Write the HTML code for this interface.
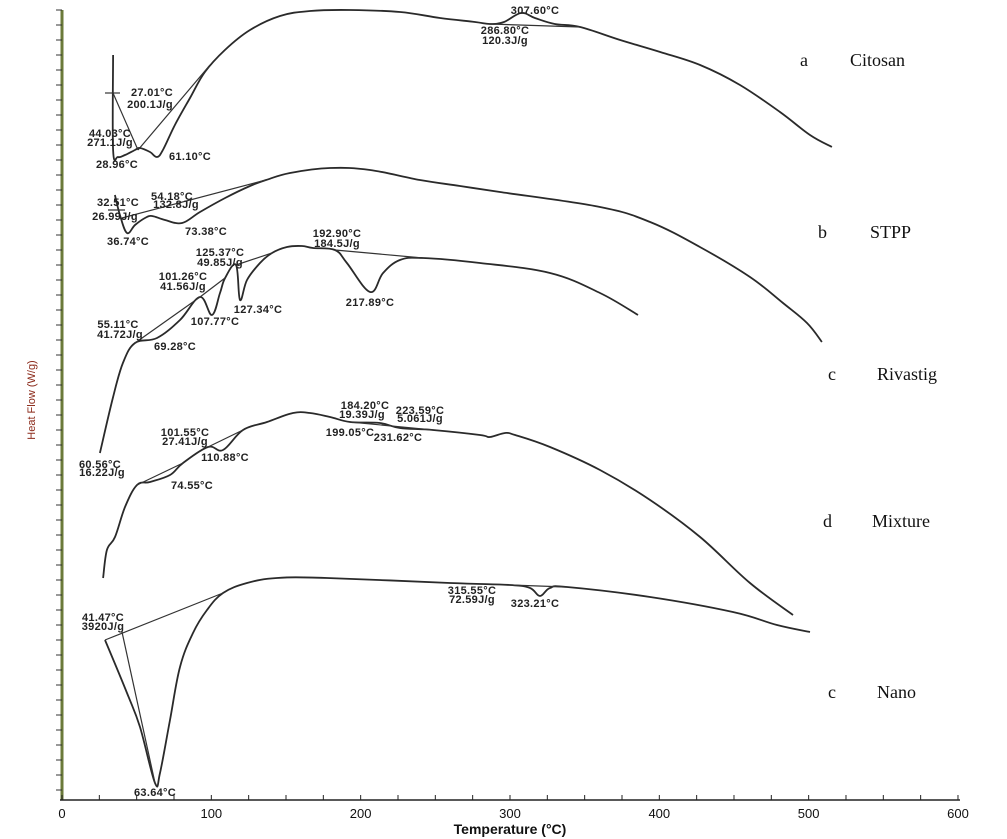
<!DOCTYPE html>
<html><head><meta charset="utf-8">
<style>
html,body{margin:0;padding:0;background:#fff;}
svg{display:block;}
.ann{font-family:"Liberation Sans",sans-serif;font-size:11px;font-weight:bold;fill:#222;text-anchor:middle;letter-spacing:0.3px;}
.lab{font-family:"Liberation Serif",serif;font-size:18px;fill:#111;}
.tick{font-family:"Liberation Sans",sans-serif;font-size:13px;fill:#111;text-anchor:middle;}
</style></head>
<body>
<svg id="chart" width="1007" height="839" viewBox="0 0 1007 839">
<g id="axes"></g>
<g id="curves"></g>
<g id="anns"></g>
</svg>
<script>
const xTicks = [0,100,200,300,400,500,600];
const curveA = [[34.2,74.5],[34.2,65],[37.5,64.3],[42.2,64.5],[48.9,65],[52.2,65.2],[58.9,64.8],[63.6,64.3],[67.6,65],[75.6,67.5],[85.7,70.2],[95.7,72.8],[109.1,75],[125.9,77],[146,78.4],[166.1,78.9],[192.9,79],[226.4,78.8],[253.1,78.2],[276.6,77.8],[286.6,77.6],[296,77.8],[307.4,78.7],[316.7,78.2],[330,77.6],[347,77.3],[373.8,76],[400.6,74.8],[427.3,73.5],[454,71.5],[480.8,68.8],[500.9,66.5],[515.6,65.3]];
const curveB = [[35.4,60.5],[38.8,58.5],[43.5,56.7],[48.9,57.5],[55.6,58.2],[60.3,58.4],[69,58],[80.4,57.7],[92.4,58.8],[109.2,60.2],[125.9,61.4],[136.6,62],[152.7,62.7],[179.5,63.2],[206.3,63],[239.7,62],[266.5,61.4],[293.3,60.8],[360.3,59.3],[393.8,57.8],[427.2,55.3],[460.7,52.3],[482.8,49.7],[498.9,47.7],[508.9,45.8]];
const curveC = [[25.4,34.7],[34.2,40.3],[40.8,43.7],[48.9,45.7],[63.6,46.2],[79,48],[92.4,50.3],[100.4,48.5],[105.8,50.7],[109.2,52.2],[116.5,53.5],[119.2,50],[123.9,52],[132.6,53.7],[140.6,54.7],[150.7,55.3],[160.7,55.4],[168.1,55.2],[182.8,55],[190.8,53.7],[206.3,50.8],[215,52.7],[226.3,54],[241.7,54.2],[279.9,53.7],[326.8,52.7],[360.3,50.7],[385.7,48.5]];
const curveD = [[27.5,22.2],[30.1,25],[35.5,26.3],[42.2,29.3],[50.2,31.5],[58.9,31.8],[72.3,32.5],[81,33.7],[97.8,35.3],[107.8,35],[121.2,37],[137.3,37.8],[154.7,38.7],[166.1,38.7],[179.5,38.3],[192.9,37.8],[212.9,37.7],[226.3,37.2],[248.4,37],[279.9,36.5],[286.6,36.3],[296.7,36.7],[303.4,36.5],[326.8,35.3],[360.3,33],[393.8,30],[427.3,26.3],[460.7,21.7],[489.5,18.5]];
const curveE = [[28.8,16],[43.5,10.7],[52.2,7.3],[62.3,1.7],[65.6,2.7],[72.3,8],[79,13.3],[87.7,16.7],[97.1,19],[107.8,20.7],[123.9,21.7],[144,22.2],[177.5,22.2],[259.8,21.7],[300,21.5],[313.4,21.2],[320.1,20.4],[326.8,21.2],[338.2,21.3],[393.8,20.3],[449.3,18.8],[478.8,17.5],[500.9,16.8]];
const seriesNames = ["curve-citosan","curve-stpp","curve-rivastig","curve-mixture","curve-nano"];

const NS="http://www.w3.org/2000/svg";
function xs(t){return 62+t*1.4933;}
function ys(v){return 800-v*10;}
function mk(tag,attrs,parent){const e=document.createElementNS(NS,tag);for(const k in attrs)e.setAttribute(k,attrs[k]);parent.appendChild(e);return e;}
function smooth(pts){
  const k=0.18;let d='M'+pts[0][0].toFixed(1)+' '+pts[0][1].toFixed(1);
  for(let i=0;i<pts.length-1;i++){
    const p0=pts[Math.max(0,i-1)],p1=pts[i],p2=pts[i+1],p3=pts[Math.min(pts.length-1,i+2)];
    const c1=[p1[0]+(p2[0]-p0[0])*k,p1[1]+(p2[1]-p0[1])*k];
    const c2=[p2[0]-(p3[0]-p1[0])*k,p2[1]-(p3[1]-p1[1])*k];
    d+=' C'+c1[0].toFixed(1)+' '+c1[1].toFixed(1)+' '+c2[0].toFixed(1)+' '+c2[1].toFixed(1)+' '+p2[0].toFixed(1)+' '+p2[1].toFixed(1);
  }
  return d;
}

const axes=document.getElementById('axes');
let yl=mk('line',{x1:62,y1:10,x2:62,y2:800,stroke:'#6b7a3a','stroke-width':3},axes);


for(let y=10;y<=800;y+=15){mk('line',{x1:56,y1:y,x2:62,y2:y,stroke:'#333','stroke-width':1},axes);}
let yt=mk('text',{x:35,y:400,transform:'rotate(-90 35 400)','font-family':'Liberation Sans, sans-serif','font-size':11,fill:'#8b2a1a','text-anchor':'middle'},axes);
yt.textContent='Heat Flow (W/g)';


let xl=mk('line',{x1:60,y1:800,x2:960,y2:800,stroke:'#222','stroke-width':1.5},axes);


for(let t=0;t<=600;t+=25){mk('line',{x1:xs(t),y1:800,x2:xs(t),y2:795,stroke:'#222','stroke-width':1},axes);}
xTicks.forEach(t=>{
  const tx=mk('text',{x:xs(t),y:818,class:'tick'},axes);
  tx.textContent=t;
  
  
});
let xt=mk('text',{x:510,y:834,'font-family':'Liberation Sans, sans-serif','font-size':14,'font-weight':'bold',fill:'#111','text-anchor':'middle'},axes);
xt.textContent='Temperature (°C)';



const curves=document.getElementById('curves');
[curveA,curveB,curveC,curveD,curveE].forEach((c,i)=>{
  const pts=c.map(p=>[xs(p[0]),ys(p[1])]);
  const p=mk('path',{d:smooth(pts),fill:'none',stroke:'#2a2a2a','stroke-width':1.8,'stroke-linejoin':'round'},curves);
  
  
});

const anns=document.getElementById('anns');
const lines=[[105,93,120,93],[113,93,138,150],[138,150,210,65],[108,210,125,210],[122,218,266,180],[135,343,200,297],[200,297,225,278],[236,265,272,253],[335,250,423,258],[137,485,183,463],[208,447,243,430],[350,422,433,430],[490,24,580,27],[105,640,223,593],[122,632,155,783],[510,585,567,587]];
lines.forEach(l=>{const e=mk('line',{x1:l[0],y1:l[1],x2:l[2],y2:l[3],stroke:'#333','stroke-width':1.2},anns);

});
const texts=[
["307.60°C",535,14],["286.80°C",505,34],["120.3J/g",505,44],["27.01°C",152,96],["200.1J/g",150,108],["44.03°C",110,137],["271.1J/g",110,146],["28.96°C",117,168],["61.10°C",190,160],
["54.18°C",172,200],["32.51°C",118,206],["132.8J/g",176,208],["26.99J/g",115,220],["73.38°C",206,235],["36.74°C",128,245],
["192.90°C",337,237],["184.5J/g",337,247],["125.37°C",220,256],["49.85J/g",220,266],["101.26°C",183,280],["41.56J/g",183,290],["55.11°C",118,328],["41.72J/g",120,338],["69.28°C",175,350],["107.77°C",215,325],["127.34°C",258,313],["217.89°C",370,306],
["184.20°C",365,409],["19.39J/g",362,418],["223.59°C",420,414],["5.061J/g",420,422],["199.05°C",350,436],["231.62°C",398,441],["101.55°C",185,436],["27.41J/g",185,445],["110.88°C",225,461],["60.56°C",100,468],["16.22J/g",102,476],["74.55°C",192,489],
["315.55°C",472,594],["72.59J/g",472,603],["323.21°C",535,607],["41.47°C",103,621],["3920J/g",103,630],["63.64°C",155,796]];
texts.forEach(t=>{const e=mk('text',{x:t[1],y:t[2],class:'ann'},anns);e.textContent=t[0];

});
const labs=[["a",800,66],["Citosan",850,66],["b",818,238],["STPP",870,238],["c",828,380],["Rivastig",877,380],["d",823,527],["Mixture",872,527],["c",828,698],["Nano",877,698]];
labs.forEach(t=>{const e=mk('text',{x:t[1],y:t[2],class:'lab'},anns);e.textContent=t[0];

});
</script>
</body></html>
